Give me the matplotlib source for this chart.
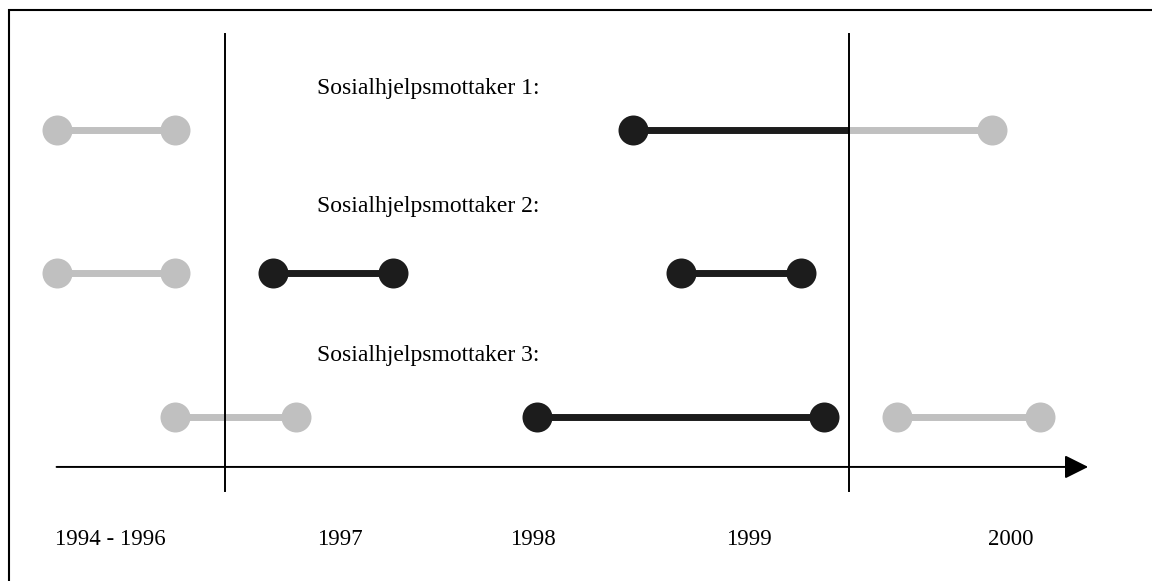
import matplotlib
matplotlib.use("Agg")
import matplotlib.pyplot as plt
from matplotlib.patches import Rectangle

# periods on the time axis (years, schematic)
year_labels = ["1994 - 1996", "1997", "1998", "1999", "2000"]
year_pos = [1996.45, 1997.55, 1998.48, 1999.52, 2000.78]
period_bounds = [1997.0, 2000.0]

# recipients and where their labels sit (row units)
recipients = ["Sosialhjelpsmottaker 1:", "Sosialhjelpsmottaker 2:", "Sosialhjelpsmottaker 3:"]
label_y = [0.714, 1.530, 2.568]
label_x = 1997.44

# spells: row, start, end, inside study period?, marker at start, marker at end
seg_row = [1, 1, 1, 2, 2, 2, 3, 3, 3]
seg_start = [1996.19, 1998.96, 2000.00, 1996.19, 1997.23, 1999.19, 1996.76, 1998.50, 2000.23]
seg_end = [1996.76, 2000.00, 2000.69, 1996.76, 1997.81, 1999.77, 1997.34, 1999.88, 2000.92]
seg_inside = [False, True, False, False, True, True, False, True, False]
mark_start = [True, True, False, True, True, True, True, True, True]
mark_end = [True, False, True, True, True, True, True, True, True]

GREY = "#c0c0c0"
DARK = "#1c1c1c"

fig = plt.figure(figsize=(11.52, 5.81), dpi=100)
ax = fig.add_axes([0, 0, 1, 1])
ax.set_xlim(1995.918, 2001.457)
ax.set_ylim(4.1429, 0.0941)
ax.axis("off")

for r, s, e, ins, ms, me in zip(seg_row, seg_start, seg_end, seg_inside, mark_start, mark_end):
    c = DARK if ins else GREY
    ax.plot([s, e], [r, r], color=c, lw=5, solid_capstyle="butt", zorder=2)
    pts = [x for x, m in ((s, ms), (e, me)) if m]
    if pts:
        ax.plot(pts, [r] * len(pts), "o", color=c, ms=21.6, mew=0, zorder=3)

# period boundaries
for b in period_bounds:
    ax.plot([b, b], [0.331, 3.516], color="black", lw=1.4, zorder=4)

# time axis arrow
axis_y = 3.348
ax.annotate("", xy=(2001.15, axis_y), xytext=(1996.19, axis_y),
            arrowprops=dict(arrowstyle="-|>,head_length=1.0,head_width=0.5",
                            mutation_scale=14.4, lw=1.4, color="black",
                            shrinkA=0, shrinkB=0), zorder=4)

for name, y in zip(recipients, label_y):
    ax.text(label_x, y, name, ha="left", va="center", fontsize=17,
            family="Liberation Serif")

for lab, x in zip(year_labels, year_pos):
    ax.text(x, 3.857, lab, ha="center", va="center", fontsize=16.5,
            family="Liberation Serif")

# frame around the figure (right and bottom edges fall outside the picture)
fig.add_artist(Rectangle((9 / 1152, -0.1), 2.0, (1 - 10 / 581) + 0.1,
                         transform=fig.transFigure, fill=False,
                         lw=1.5, edgecolor="black"))

fig.savefig("out.png", dpi=100)
